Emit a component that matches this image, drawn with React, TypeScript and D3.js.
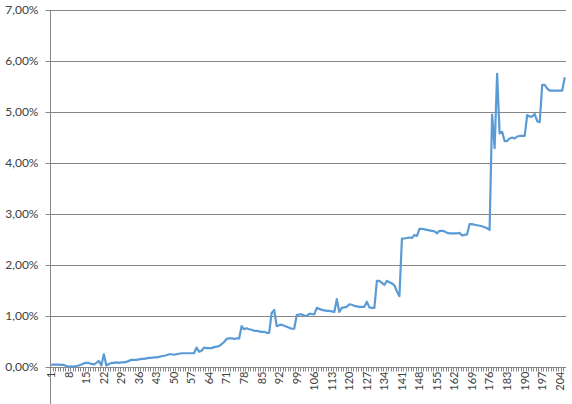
import { useRef, useEffect } from "react";
import * as d3 from "d3";

const WIDTH = 572;
const HEIGHT = 404;
const TOP = 10;
const RIGHT = 6;
const BOTTOM = 37;
const LEFT = 50;

// share in %, one value per category 1..206
const VALUES = [
  0.04, 0.045, 0.045, 0.045, 0.04, 0.04, 0.02, 0.01, 0.015, 0.01,
  0.02, 0.03, 0.05, 0.07, 0.08, 0.08, 0.06, 0.05, 0.08, 0.12,
  0.03, 0.25, 0.03, 0.06, 0.08, 0.08, 0.09, 0.08, 0.09, 0.09,
  0.10, 0.12, 0.14, 0.14, 0.14, 0.15, 0.16, 0.16, 0.17, 0.18,
  0.18, 0.19, 0.19, 0.20, 0.21, 0.22, 0.23, 0.25, 0.25, 0.24,
  0.25, 0.26, 0.27, 0.27, 0.27, 0.27, 0.27, 0.27, 0.38, 0.30,
  0.32, 0.38, 0.37, 0.37, 0.37, 0.39, 0.40, 0.41, 0.45, 0.49,
  0.55, 0.56, 0.56, 0.55, 0.56, 0.56, 0.80, 0.74, 0.76, 0.74,
  0.73, 0.71, 0.71, 0.70, 0.69, 0.69, 0.67, 0.67, 1.06, 1.12,
  0.80, 0.82, 0.83, 0.81, 0.79, 0.77, 0.75, 0.75, 1.02, 1.03,
  1.03, 1.01, 1.00, 1.04, 1.04, 1.03, 1.16, 1.14, 1.12, 1.11,
  1.10, 1.10, 1.09, 1.08, 1.33, 1.08, 1.16, 1.17, 1.18, 1.23,
  1.22, 1.20, 1.19, 1.18, 1.18, 1.18, 1.28, 1.17, 1.16, 1.16,
  1.69, 1.69, 1.65, 1.61, 1.69, 1.66, 1.64, 1.60, 1.48, 1.39,
  2.52, 2.52, 2.53, 2.54, 2.53, 2.59, 2.57, 2.71, 2.71, 2.70,
  2.69, 2.68, 2.67, 2.66, 2.62, 2.67, 2.67, 2.66, 2.63, 2.62,
  2.62, 2.62, 2.62, 2.63, 2.58, 2.59, 2.60, 2.80, 2.80, 2.79,
  2.78, 2.77, 2.76, 2.74, 2.72, 2.69, 4.95, 4.29, 5.75, 4.58,
  4.61, 4.43, 4.43, 4.48, 4.50, 4.48, 4.52, 4.53, 4.53, 4.53,
  4.94, 4.91, 4.91, 4.96, 4.82, 4.80, 5.53, 5.53, 5.46, 5.42,
  5.42, 5.42, 5.42, 5.42, 5.42, 5.68,
];

const CATEGORIES = VALUES.map((_, i) => i + 1);
const Y_TICKS = [0, 1, 2, 3, 4, 5, 6, 7];

const fmt = (v: number) => v.toFixed(2).replace(".", ",") + "%";

const Chart = () => {
  const svgRef = useRef<SVGSVGElement>(null);

  useEffect(() => {
    const svg = d3.select(svgRef.current);
    svg.selectAll("*").remove();

    const x = d3.scaleBand<number>()
      .domain(CATEGORIES)
      .range([LEFT, WIDTH - RIGHT]);
    const y = d3.scaleLinear([0, 7], [HEIGHT - BOTTOM, TOP]);
    const cx = (c: number) => x(c)! + x.bandwidth() / 2;

    // grid lines
    svg.append("g")
      .selectAll("line")
      .data(Y_TICKS.slice(1))
      .join("line")
      .attr("x1", LEFT)
      .attr("x2", WIDTH - RIGHT)
      .attr("y1", d => Math.round(y(d)) + 0.5)
      .attr("y2", d => Math.round(y(d)) + 0.5)
      .attr("stroke", "#868686")
      .attr("stroke-width", 1);

    // y axis
    const gy = svg.append("g").attr("transform", `translate(${LEFT + 0.5},0)`);
    gy.append("line")
      .attr("y1", TOP)
      .attr("y2", HEIGHT)
      .attr("stroke", "#868686");
    gy.selectAll("line.tick")
      .data(Y_TICKS)
      .join("line")
      .attr("class", "tick")
      .attr("x1", -5)
      .attr("x2", 0)
      .attr("y1", d => Math.round(y(d)) + 0.5)
      .attr("y2", d => Math.round(y(d)) + 0.5)
      .attr("stroke", "#868686");
    gy.selectAll("text")
      .data(Y_TICKS)
      .join("text")
      .attr("x", -12)
      .attr("y", d => y(d))
      .attr("dy", "0.35em")
      .attr("text-anchor", "end")
      .attr("font-family", "Lato, 'Open Sans', sans-serif")
      .attr("font-size", 12)
      .attr("fill", "#404040")
      .text(d => fmt(d));

    // x axis
    const y0 = Math.round(y(0)) + 0.5;
    const gx = svg.append("g");
    gx.append("line")
      .attr("x1", LEFT)
      .attr("x2", WIDTH - RIGHT)
      .attr("y1", y0)
      .attr("y2", y0)
      .attr("stroke", "#868686");
    gx.selectAll("line.tick")
      .data(CATEGORIES)
      .join("line")
      .attr("class", "tick")
      .attr("x1", d => Math.round(x(d)!) + 0.5)
      .attr("x2", d => Math.round(x(d)!) + 0.5)
      .attr("y1", y0)
      .attr("y2", y0 + 4)
      .attr("stroke", "#868686");
    gx.selectAll("text")
      .data(CATEGORIES.filter(c => (c - 1) % 7 === 0))
      .join("text")
      .attr("transform", d => `translate(${cx(d)},${y0 + 4}) rotate(-90)`)
      .attr("dy", "0.35em")
      .attr("text-anchor", "end")
      .attr("font-family", "Lato, 'Open Sans', sans-serif")
      .attr("font-size", 11)
      .attr("fill", "#404040")
      .text(d => String(d));

    // line
    const line = d3.line<number>()
      .x((_, i) => cx(CATEGORIES[i]))
      .y(d => y(d));
    svg.append("path")
      .datum(VALUES)
      .attr("d", line)
      .attr("fill", "none")
      .attr("stroke", "#5B9BD5")
      .attr("stroke-width", 2.2)
      .attr("stroke-linejoin", "round");
  }, []);

  return (
    <svg
      ref={svgRef}
      width={WIDTH}
      height={HEIGHT}
      style={{ position: "fixed", left: 0, top: 0, background: "#fff" }}
    />
  );
};

export default function App() {
  return <Chart />;
}
